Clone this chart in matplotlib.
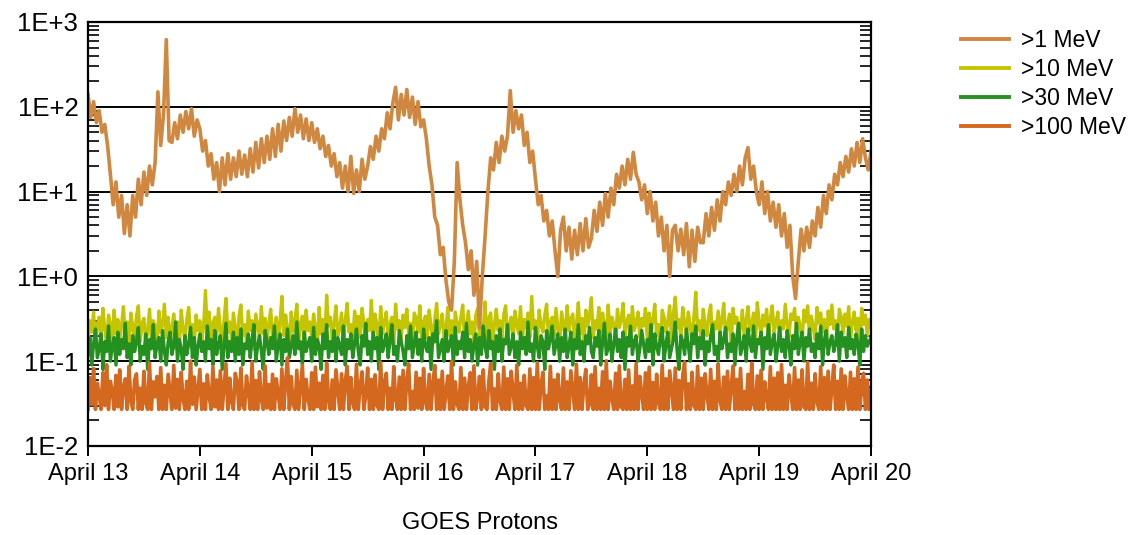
import numpy as np
import matplotlib.pyplot as plt
from matplotlib.ticker import LogLocator, NullFormatter

plt.rcParams['font.family'] = ['Liberation Sans', 'DejaVu Sans']

# monsterintervalle in dae, begin 13 April
stap_p1 = 0.025       # 36 minute vir >1 MeV
stap_lae = 1 / 60     # 24 minute vir die lae energie-kanale
dag_etikette = ['April 13', 'April 14', 'April 15', 'April 16',
                'April 17', 'April 18', 'April 19', 'April 20']
y_etikette = ['1E-2', '1E-1', '1E+0', '1E+1', '1E+2', '1E+3']
reeks_name = ['>1 MeV', '>10 MeV', '>30 MeV', '>100 MeV']

# >1 MeV (pfu), afgelees van die prent
p1 = [140, 75, 115, 65, 90, 50, 62, 35, 16, 7,
      13, 5, 9, 3.2, 7, 3.0, 9, 5, 14, 7,
      17, 9, 20, 12, 22, 150, 35, 80, 620, 40,
      38, 65, 42, 80, 50, 88, 55, 95, 45, 70,
      55, 30, 40, 20, 28, 14, 22, 10, 25, 12,
      28, 14, 25, 15, 30, 16, 27, 15, 32, 17,
      38, 19, 42, 22, 45, 24, 55, 26, 62, 30,
      68, 40, 75, 45, 95, 50, 80, 42, 72, 40,
      65, 38, 55, 32, 45, 26, 35, 20, 28, 15,
      22, 11, 20, 10, 26, 9.5, 18, 10, 24, 14,
      20, 34, 24, 45, 30, 55, 42, 85, 55, 110,
      170, 70, 140, 80, 160, 75, 130, 62, 115, 58,
      70, 42, 20, 12, 5, 4, 1.8, 2.2, 0.9, 0.5,
      0.4, 1.5, 22, 8, 4, 2.5, 1.2, 2.0, 0.6, 1.5,
      0.25, 1.0, 3, 10, 25, 18, 38, 22, 45, 30,
      45, 155, 50, 90, 55, 80, 35, 50, 22, 30,
      14, 7, 9, 4.5, 6, 3, 4.5, 2, 1.0, 3.5,
      5, 2.0, 3.8, 1.6, 3.5, 1.8, 4.2, 2.0, 4.8, 2.2,
      2.8, 6, 3.4, 7.5, 4, 9.5, 5, 11, 7, 16,
      11, 20, 12, 24, 14, 29, 16, 13, 8, 12,
      5.5, 10, 4.5, 7.5, 3, 5, 2, 4, 1.0, 3.5,
      4.0, 2.0, 3.6, 1.8, 4.2, 1.3, 3.5, 1.5, 3.8, 2.5,
      2.5, 5.5, 3, 6.5, 3.5, 8, 4.5, 10, 7, 13,
      9, 16, 10, 20, 12, 25, 33, 14, 20, 10,
      7, 13, 5.5, 10, 4.5, 7.5, 3.8, 7.0, 3.0, 5.5,
      2.2, 4.0, 1.0, 0.55, 1.5, 3.6, 2.0, 3.8, 2.2, 4.5,
      3, 6.5, 3.8, 9, 5.5, 12, 8, 16, 12, 22,
      15, 26, 17, 32, 20, 38, 22, 42, 25, 18,
      30]

# >10 MeV
p10 = [0.17, 0.30, 0.22, 0.38, 0.15, 0.27, 0.33, 0.19, 0.42, 0.24,
       0.16, 0.35, 0.28, 0.14, 0.40, 0.21, 0.31, 0.18, 0.26, 0.44,
       0.20, 0.29, 0.15, 0.37, 0.25, 0.19, 0.34, 0.45, 0.17, 0.28,
       0.32, 0.16, 0.23, 0.41, 0.18, 0.30, 0.26, 0.14, 0.39, 0.22,
       0.27, 0.47, 0.19, 0.33, 0.16, 0.25, 0.36, 0.21, 0.29, 0.15,
       0.40, 0.24, 0.18, 0.31, 0.43, 0.20, 0.27, 0.16, 0.35, 0.23,
       0.30, 0.17, 0.26, 0.68, 0.21, 0.38, 0.15, 0.28, 0.33, 0.19,
       0.42, 0.24, 0.16, 0.31, 0.55, 0.22, 0.29, 0.18, 0.37, 0.25,
       0.15, 0.34, 0.46, 0.20, 0.27, 0.17, 0.39, 0.23, 0.30, 0.14,
       0.36, 0.26, 0.19, 0.44, 0.21, 0.32, 0.16, 0.28, 0.41, 0.18,
       0.25, 0.33, 0.17, 0.29, 0.58, 0.20, 0.35, 0.24, 0.15, 0.38,
       0.22, 0.30, 0.47, 0.18, 0.27, 0.34, 0.16, 0.40, 0.23, 0.29,
       0.19, 0.36, 0.25, 0.14, 0.43, 0.21, 0.31, 0.17, 0.60, 0.26,
       0.33, 0.18, 0.28, 0.45, 0.20, 0.24, 0.37, 0.15, 0.30, 0.48,
       0.22, 0.27, 0.16, 0.39, 0.25, 0.34, 0.19, 0.42, 0.28, 0.17,
       0.31, 0.23, 0.52, 0.18, 0.36, 0.26, 0.15, 0.44, 0.21, 0.29,
       0.38, 0.19, 0.27, 0.33, 0.16, 0.47, 0.24, 0.30, 0.18, 0.35,
       0.25, 0.41, 0.20, 0.28, 0.15, 0.37, 0.32, 0.22, 0.45, 0.17,
       0.29, 0.34, 0.19, 0.40, 0.26, 0.16, 0.31, 0.48, 0.21, 0.27,
       0.36, 0.18, 0.24, 0.43, 0.20, 0.30, 0.15, 0.38, 0.28, 0.22,
       0.33, 0.46, 0.17, 0.26, 0.39, 0.21, 0.29, 0.16, 0.35, 0.42,
       0.19, 0.28, 0.24, 0.50, 0.18, 0.32, 0.37, 0.15, 0.27, 0.41,
       0.23, 0.30, 0.17, 0.36, 0.45, 0.20, 0.26, 0.33, 0.16, 0.39,
       0.28, 0.21, 0.44, 0.18, 0.31, 0.25, 0.37, 0.19, 0.58, 0.24,
       0.30, 0.16, 0.40, 0.27, 0.22, 0.35, 0.47, 0.18, 0.29, 0.33,
       0.20, 0.42, 0.25, 0.15, 0.38, 0.28, 0.19, 0.45, 0.23, 0.31,
       0.36, 0.17, 0.27, 0.49, 0.21, 0.32, 0.16, 0.40, 0.26, 0.34,
       0.56, 0.19, 0.30, 0.24, 0.43, 0.18, 0.37, 0.28, 0.15, 0.46,
       0.22, 0.33, 0.27, 0.18, 0.41, 0.25, 0.31, 0.48, 0.20, 0.29,
       0.35, 0.16, 0.44, 0.23, 0.28, 0.38, 0.19, 0.32, 0.26, 0.42,
       0.18, 0.37, 0.24, 0.30, 0.47, 0.20, 0.27, 0.15, 0.40, 0.33,
       0.22, 0.29, 0.45, 0.17, 0.36, 0.57, 0.25, 0.31, 0.19, 0.43,
       0.28, 0.21, 0.38, 0.26, 0.16, 0.34, 0.65, 0.23, 0.30, 0.18,
       0.41, 0.27, 0.20, 0.35, 0.46, 0.17, 0.29, 0.24, 0.39, 0.22,
       0.31, 0.48, 0.19, 0.26, 0.36, 0.15, 0.42, 0.28, 0.33, 0.21,
       0.25, 0.40, 0.18, 0.30, 0.44, 0.23, 0.27, 0.37, 0.16, 0.49,
       0.29, 0.20, 0.35, 0.26, 0.41, 0.18, 0.32, 0.45, 0.22, 0.28,
       0.38, 0.17, 0.30, 0.24, 0.47, 0.27, 0.19, 0.36, 0.31, 0.42,
       0.21, 0.33, 0.26, 0.16, 0.40, 0.29, 0.45, 0.20, 0.34, 0.25,
       0.18, 0.43, 0.28, 0.37, 0.22, 0.31, 0.15, 0.39, 0.27, 0.46,
       0.24, 0.30, 0.19, 0.41, 0.33, 0.21, 0.36, 0.26, 0.44, 0.18,
       0.29, 0.38, 0.23, 0.32, 0.17, 0.42, 0.27, 0.35, 0.20, 0.31,
       0.26]

# >30 MeV
p30 = [0.12, 0.19, 0.09, 0.16, 0.24, 0.11, 0.14, 0.21, 0.08, 0.17,
       0.13, 0.26, 0.10, 0.15, 0.19, 0.09, 0.22, 0.12, 0.18, 0.14,
       0.28, 0.11, 0.16, 0.09, 0.20, 0.13, 0.17, 0.25, 0.10, 0.15,
       0.12, 0.21, 0.08, 0.18, 0.14, 0.27, 0.11, 0.16, 0.19, 0.10,
       0.23, 0.13, 0.09, 0.17, 0.22, 0.12, 0.15, 0.29, 0.10, 0.18,
       0.14, 0.08, 0.20, 0.12, 0.16, 0.25, 0.11, 0.19, 0.09, 0.15,
       0.21, 0.13, 0.17, 0.10, 0.26, 0.14, 0.18, 0.09, 0.23, 0.12,
       0.16, 0.20, 0.08, 0.15, 0.28, 0.11, 0.17, 0.13, 0.22, 0.10,
       0.19, 0.12, 0.24, 0.09, 0.16, 0.14, 0.21, 0.11, 0.18, 0.27,
       0.10, 0.15, 0.20, 0.13, 0.08, 0.23, 0.17, 0.12, 0.19, 0.14,
       0.26, 0.10, 0.16, 0.21, 0.09, 0.18, 0.13, 0.24, 0.11, 0.15,
       0.20, 0.12, 0.29, 0.14, 0.17, 0.09, 0.22, 0.13, 0.16, 0.19,
       0.10, 0.25, 0.12, 0.18, 0.15, 0.08, 0.21, 0.14, 0.27, 0.11,
       0.17, 0.13, 0.23, 0.10, 0.19, 0.15, 0.12, 0.26, 0.09, 0.18,
       0.14, 0.21, 0.11, 0.16, 0.24, 0.13, 0.09, 0.20, 0.15, 0.28,
       0.12, 0.17, 0.10, 0.22, 0.14, 0.19, 0.08, 0.25, 0.13, 0.16,
       0.21, 0.11, 0.18, 0.27, 0.12, 0.15, 0.10, 0.23, 0.17, 0.13,
       0.09, 0.20, 0.14, 0.26, 0.11, 0.16, 0.22, 0.12, 0.18, 0.10,
       0.24, 0.15, 0.13, 0.19, 0.08, 0.21, 0.17, 0.30, 0.11, 0.14,
       0.18, 0.10, 0.23, 0.13, 0.16, 0.20, 0.09, 0.25, 0.12, 0.17,
       0.14, 0.22, 0.11, 0.28, 0.13, 0.18, 0.10, 0.16, 0.21, 0.09,
       0.19, 0.12, 0.26, 0.15, 0.11, 0.23, 0.14, 0.17, 0.08, 0.20,
       0.13, 0.24, 0.10, 0.18, 0.16, 0.27, 0.12, 0.15, 0.21, 0.11,
       0.17, 0.09, 0.22, 0.14, 0.19, 0.12, 0.29, 0.13, 0.16, 0.10,
       0.25, 0.15, 0.11, 0.20, 0.17, 0.08, 0.23, 0.14, 0.18, 0.26,
       0.12, 0.16, 0.21, 0.10, 0.19, 0.13, 0.24, 0.11, 0.15, 0.22,
       0.09, 0.18, 0.14, 0.27, 0.12, 0.17, 0.10, 0.20, 0.16, 0.25,
       0.13, 0.11, 0.19, 0.15, 0.23, 0.09, 0.17, 0.28, 0.12, 0.14,
       0.21, 0.10, 0.16, 0.24, 0.13, 0.18, 0.11, 0.22, 0.08, 0.19,
       0.15, 0.26, 0.12, 0.17, 0.20, 0.10, 0.14, 0.23, 0.16, 0.11,
       0.18, 0.13, 0.27, 0.09, 0.21, 0.15, 0.12, 0.19, 0.25, 0.10,
       0.16, 0.22, 0.11, 0.14, 0.18, 0.29, 0.13, 0.08, 0.20, 0.17,
       0.12, 0.24, 0.15, 0.10, 0.21, 0.16, 0.26, 0.11, 0.19, 0.14,
       0.23, 0.09, 0.17, 0.13, 0.20, 0.27, 0.12, 0.15, 0.10, 0.22,
       0.14, 0.18, 0.25, 0.11, 0.16, 0.13, 0.21, 0.09, 0.19, 0.28,
       0.12, 0.15, 0.20, 0.10, 0.24, 0.17, 0.13, 0.26, 0.11, 0.18,
       0.16, 0.22, 0.08, 0.19, 0.14, 0.27, 0.12, 0.17, 0.21, 0.10,
       0.15, 0.25, 0.13, 0.18, 0.11, 0.23, 0.16, 0.09, 0.20, 0.14,
       0.28, 0.12, 0.17, 0.22, 0.10, 0.19, 0.15, 0.24, 0.13, 0.16,
       0.11, 0.21, 0.14, 0.26, 0.09, 0.18, 0.23, 0.12, 0.17, 0.20,
       0.13, 0.16, 0.27, 0.10, 0.22, 0.15, 0.19, 0.11, 0.25, 0.14,
       0.18, 0.12, 0.21, 0.16, 0.09, 0.24, 0.13, 0.20, 0.15, 0.17,
       0.19]

# >100 MeV
p100 = [0.027, 0.064, 0.031, 0.082, 0.027, 0.055, 0.040, 0.027, 0.073, 0.030,
        0.091, 0.027, 0.058, 0.045, 0.027, 0.068, 0.029, 0.079, 0.027, 0.050,
        0.062, 0.027, 0.087, 0.034, 0.027, 0.060, 0.071, 0.027, 0.048, 0.027,
        0.076, 0.032, 0.027, 0.095, 0.027, 0.057, 0.038, 0.066, 0.027, 0.084,
        0.027, 0.052, 0.027, 0.070, 0.043, 0.027, 0.089, 0.028, 0.061, 0.027,
        0.074, 0.036, 0.027, 0.058, 0.027, 0.100, 0.031, 0.065, 0.027, 0.047,
        0.080, 0.027, 0.054, 0.027, 0.069, 0.039, 0.027, 0.086, 0.029, 0.060,
        0.027, 0.077, 0.027, 0.050, 0.093, 0.027, 0.063, 0.033, 0.027, 0.072,
        0.056, 0.027, 0.083, 0.030, 0.027, 0.067, 0.044, 0.027, 0.098, 0.027,
        0.059, 0.027, 0.075, 0.035, 0.027, 0.088, 0.028, 0.053, 0.027, 0.070,
        0.027, 0.062, 0.041, 0.027, 0.081, 0.027, 0.057, 0.110, 0.027, 0.066,
        0.031, 0.027, 0.078, 0.027, 0.049, 0.090, 0.027, 0.061, 0.037, 0.027,
        0.073, 0.027, 0.085, 0.029, 0.055, 0.027, 0.068, 0.027, 0.095, 0.034,
        0.027, 0.060, 0.027, 0.079, 0.046, 0.027, 0.071, 0.027, 0.058, 0.087,
        0.027, 0.064, 0.032, 0.027, 0.092, 0.027, 0.052, 0.075, 0.027, 0.040,
        0.083, 0.027, 0.061, 0.027, 0.069, 0.030, 0.027, 0.097, 0.027, 0.056,
        0.072, 0.027, 0.048, 0.027, 0.086, 0.036, 0.027, 0.065, 0.027, 0.078,
        0.027, 0.059, 0.093, 0.027, 0.044, 0.027, 0.074, 0.028, 0.063, 0.027,
        0.082, 0.033, 0.027, 0.070, 0.027, 0.054, 0.089, 0.027, 0.060, 0.027,
        0.076, 0.027, 0.042, 0.067, 0.027, 0.099, 0.027, 0.057, 0.031, 0.027,
        0.084, 0.027, 0.063, 0.027, 0.050, 0.073, 0.027, 0.088, 0.027, 0.038,
        0.066, 0.027, 0.079, 0.029, 0.027, 0.058, 0.094, 0.027, 0.047, 0.027,
        0.071, 0.034, 0.027, 0.085, 0.027, 0.062, 0.027, 0.076, 0.043, 0.027,
        0.090, 0.027, 0.055, 0.027, 0.068, 0.030, 0.027, 0.081, 0.027, 0.064,
        0.027, 0.096, 0.027, 0.052, 0.074, 0.027, 0.039, 0.027, 0.087, 0.027,
        0.060, 0.027, 0.070, 0.035, 0.027, 0.083, 0.027, 0.057, 0.027, 0.077,
        0.045, 0.027, 0.092, 0.027, 0.064, 0.027, 0.053, 0.080, 0.027, 0.031,
        0.069, 0.027, 0.086, 0.027, 0.048, 0.027, 0.075, 0.027, 0.101, 0.027,
        0.058, 0.037, 0.027, 0.072, 0.027, 0.088, 0.029, 0.027, 0.061, 0.027,
        0.079, 0.027, 0.051, 0.027, 0.094, 0.027, 0.066, 0.041, 0.027, 0.073,
        0.027, 0.085, 0.027, 0.056, 0.027, 0.070, 0.032, 0.027, 0.090, 0.027,
        0.062, 0.027, 0.077, 0.046, 0.027, 0.083, 0.027, 0.059, 0.027, 0.068,
        0.098, 0.027, 0.054, 0.027, 0.074, 0.030, 0.027, 0.087, 0.027, 0.063,
        0.027, 0.071, 0.040, 0.027, 0.080, 0.027, 0.058, 0.027, 0.093, 0.034,
        0.027, 0.065, 0.027, 0.076, 0.027, 0.050, 0.088, 0.027, 0.061, 0.027,
        0.082, 0.027, 0.044, 0.027, 0.070, 0.027, 0.095, 0.031, 0.027, 0.067,
        0.027, 0.078, 0.027, 0.057, 0.036, 0.027, 0.086, 0.027, 0.063, 0.027,
        0.073, 0.027, 0.091, 0.027, 0.052, 0.027, 0.069, 0.042, 0.027, 0.084,
        0.027, 0.060, 0.027, 0.079, 0.029, 0.027, 0.097, 0.027, 0.055, 0.027,
        0.071, 0.033, 0.027, 0.086, 0.027, 0.064, 0.027, 0.076, 0.027, 0.048,
        0.090, 0.027, 0.058, 0.027, 0.081, 0.027, 0.067, 0.038, 0.027, 0.074,
        0.027, 0.062, 0.027, 0.085, 0.027, 0.053, 0.072, 0.027, 0.060, 0.027,
        0.045]

kleure = ['#D0873F', '#C4C400', '#24901F', '#D4681F']

t1 = np.arange(len(p1)) * stap_p1
t_lae = np.arange(len(p10)) * stap_lae

fig = plt.figure(figsize=(11.34, 5.35), dpi=100)
ax = fig.add_axes([0.0776, 0.1664, 0.6905, 0.7925])

l10, = ax.plot(t_lae, p10, color=kleure[1], lw=2.4, label=reeks_name[1])
l30, = ax.plot(t_lae, p30, color=kleure[2], lw=2.4, label=reeks_name[2])
l100, = ax.plot(t_lae, p100, color=kleure[3], lw=2.6, label=reeks_name[3])
l1, = ax.plot(t1, p1, color=kleure[0], lw=2.6, label=reeks_name[0])

ax.set_yscale('log')
ax.set_ylim(1e-2, 1e3)
ax.set_xlim(0, 7)
ax.set_yticks([1e-2, 1e-1, 1e0, 1e1, 1e2, 1e3])
ax.set_yticklabels(y_etikette, fontsize=18.5)
ax.yaxis.set_minor_locator(LogLocator(base=10, subs=np.arange(2, 10)))
ax.yaxis.set_minor_formatter(NullFormatter())
ax.set_xticks(range(len(dag_etikette)))
ax.set_xticklabels(dag_etikette, fontsize=17)

ax.tick_params(axis='y', which='both', direction='in', right=True,
               length=8, width=1.2, pad=7, colors='black')
ax.tick_params(axis='x', which='major', direction='out', length=7,
               width=1.4, pad=5)
ax.grid(axis='y', which='major', color='black', lw=1.4)
for s in ax.spines.values():
    s.set_linewidth(1.6)
    s.set_color('black')

ax.set_xlabel('GOES Protons', fontsize=17, labelpad=20)

leg = fig.legend([l1, l10, l30, l100], reeks_name, loc='upper left',
                 bbox_to_anchor=(961 / 1134, 1 - 29 / 535), frameon=False,
                 borderpad=0, borderaxespad=0, handlelength=2.1,
                 handletextpad=0.5, labelspacing=0.26, fontsize=16.5)
for lyn in leg.get_lines():
    lyn.set_linewidth(2.8)

fig.savefig('out.png', dpi=100)
